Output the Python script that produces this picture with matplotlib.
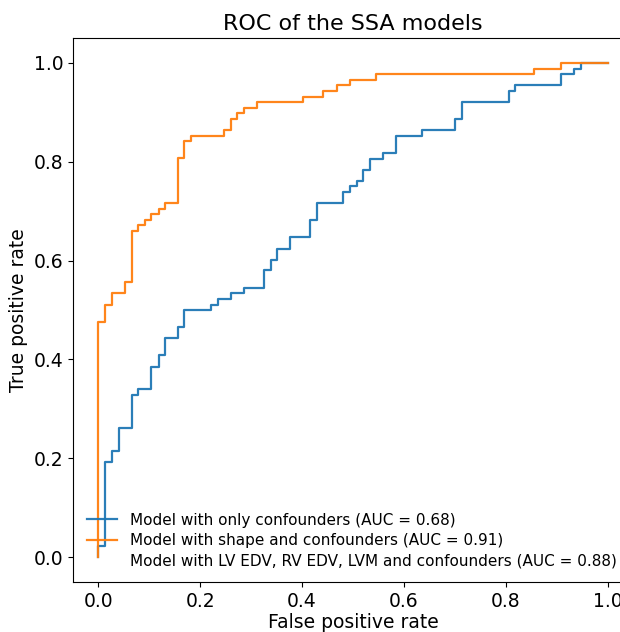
import matplotlib
matplotlib.use("Agg")
import matplotlib.pyplot as plt

# ROC points (fpr where tpr jumps, tpr after the jump)
fpr_conf = [0.000, 0.013, 0.026, 0.040, 0.065, 0.078, 0.104, 0.118, 0.131, 0.156,
            0.169, 0.222, 0.234, 0.260, 0.285, 0.325, 0.338, 0.351, 0.376, 0.416,
            0.429, 0.481, 0.494, 0.507, 0.520, 0.533, 0.559, 0.584, 0.636, 0.701,
            0.715, 0.806, 0.818, 0.909, 0.935, 0.947, 1.000]
tpr_conf = [0.023, 0.192, 0.215, 0.261, 0.329, 0.341, 0.385, 0.408, 0.443, 0.466,
            0.500, 0.511, 0.522, 0.534, 0.545, 0.580, 0.601, 0.624, 0.647, 0.682,
            0.716, 0.739, 0.750, 0.761, 0.783, 0.806, 0.818, 0.852, 0.863, 0.886,
            0.920, 0.943, 0.955, 0.977, 0.988, 1.000, 1.000]

fpr_shape = [0.000, 0.012, 0.026, 0.053, 0.065, 0.078, 0.092, 0.104, 0.118, 0.131,
             0.156, 0.169, 0.182, 0.247, 0.260, 0.273, 0.286, 0.312, 0.402, 0.441,
             0.468, 0.494, 0.545, 0.856, 0.909, 1.000]
tpr_shape = [0.476, 0.511, 0.534, 0.556, 0.659, 0.671, 0.682, 0.694, 0.704, 0.717,
             0.807, 0.841, 0.852, 0.864, 0.886, 0.898, 0.909, 0.920, 0.931, 0.943,
             0.955, 0.966, 0.978, 0.988, 1.000, 1.000]

labels = ["Model with only confounders (AUC = 0.68)",
          "Model with shape and confounders (AUC = 0.91)",
          "Model with LV EDV, RV EDV, LVM and confounders (AUC = 0.88)"]

fig = plt.figure(figsize=(6.2, 6.32), dpi=100)
# axes runs past the right edge, as in the cropped reference
ax = fig.add_axes([73 / 620, 50 / 632, 560 / 620, 544 / 632])

ax.plot([0] + fpr_conf, [0] + tpr_conf, drawstyle="steps-post",
        color="#1f77b4", lw=1.6, alpha=0.95, label=labels[0])
ax.plot([0] + fpr_shape, [0] + tpr_shape, drawstyle="steps-post",
        color="#ff7f0e", lw=1.6, alpha=0.95, label=labels[1])
ax.plot([], [], color="#2ca02c", alpha=0, label=labels[2])

ax.set_xlim(-0.05, 1.05)
ax.set_ylim(-0.05, 1.05)
ax.set_xticks([0.0, 0.2, 0.4, 0.6, 0.8, 1.0])
ax.set_yticks([0.0, 0.2, 0.4, 0.6, 0.8, 1.0])
ax.tick_params(labelsize=13.5)
ax.set_xlabel("False positive rate", fontsize=13.5, labelpad=2)
ax.set_ylabel("True positive rate", fontsize=13.5)
ax.set_title("ROC of the SSA models", fontsize=16)
ax.legend(loc="lower left", frameon=False, fontsize=11, labelspacing=0.35)

fig.savefig("out.png", dpi=100)
